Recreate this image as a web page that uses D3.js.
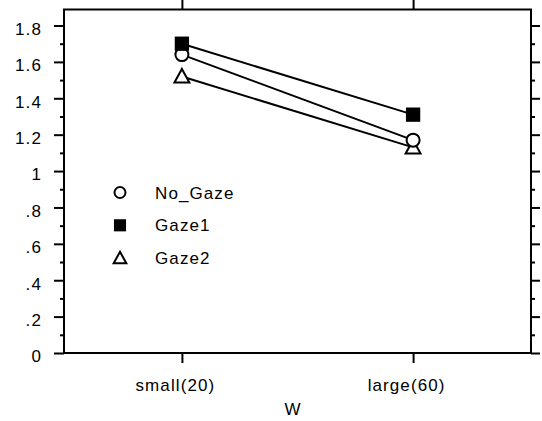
<!DOCTYPE html>
<html>
<head>
<meta charset="utf-8">
<script src="https://cdn.jsdelivr.net/npm/d3@7"></script>
<style>
  body { margin: 0; background: #fff; }
  text { font-family: "Liberation Sans", Arial, sans-serif; font-size: 17px; letter-spacing: 1.1px; fill: #000; }
</style>
</head>
<body>
<script>
// chart values
var categories = ["small(20)", "large(60)"];
var noGaze = [1.64, 1.17];
var gaze1 = [1.70, 1.31];
var gaze2 = [1.52, 1.13];
var seriesNames = ["No_Gaze", "Gaze1", "Gaze2"];
var yTickValues = [0, 0.2, 0.4, 0.6, 0.8, 1, 1.2, 1.4, 1.6, 1.8];
var yTickLabels = ["0", ".2", ".4", ".6", ".8", "1", "1.2", "1.4", "1.6", "1.8"];
var yMinorValues = [0.1, 0.3, 0.5, 0.7, 0.9, 1.1, 1.3, 1.5, 1.7];

var width = 542,
  height = 421,
  margin = {top: 9.5, right: 11, bottom: 68, left: 64},
  innerWidth = width - margin.left - margin.right,
  innerHeight = height - margin.top - margin.bottom;

var svg = d3.select("body").append("svg")
    .attr("width", width)
    .attr("height", height);

var g = svg.append("g")
    .attr("transform", "translate(" + margin.left + "," + margin.top + ")");

var xScale = d3.scalePoint()
    .domain(categories)
    .range([0, innerWidth])
    .padding(0.51);

var yScale = d3.scaleLinear()
    .domain([0, 1.888])
    .range([innerHeight, 0]);

// frame
g.append("rect")
    .attr("width", innerWidth)
    .attr("height", innerHeight)
    .attr("fill", "none")
    .attr("stroke", "#000")
    .attr("stroke-width", 2);

function styleAxis(sel) {
  sel.select(".domain").remove();
  sel.selectAll(".tick line").attr("stroke", "#000").attr("stroke-width", 2);
}
// ticks only, no labels
function bare(sel) {
  styleAxis(sel);
  sel.selectAll(".tick text").remove();
}

// left axis, major + minor
var yFmt = function (d) { return yTickLabels[yTickValues.indexOf(d)]; };
g.append("g")
    .call(d3.axisLeft(yScale).tickValues(yTickValues).tickFormat(yFmt).tickSize(10).tickPadding(12))
    .call(styleAxis)
    .selectAll("text").attr("dy", "0.52em");
g.append("g")
    .call(d3.axisLeft(yScale).tickValues(yMinorValues).tickSize(4))
    .call(bare);

// right axis
g.append("g")
    .attr("transform", "translate(" + innerWidth + ",0)")
    .call(d3.axisRight(yScale).tickValues(yTickValues).tickSize(9))
    .call(bare);
g.append("g")
    .attr("transform", "translate(" + innerWidth + ",0)")
    .call(d3.axisRight(yScale).tickValues(yMinorValues).tickSize(4))
    .call(bare);

// bottom axis
g.append("g")
    .attr("transform", "translate(0," + innerHeight + ")")
    .call(d3.axisBottom(xScale).tickSize(10).tickPadding(16))
    .call(styleAxis)
    .selectAll(".tick text").attr("dx", -7);

// top axis
g.append("g")
    .call(d3.axisTop(xScale).tickSize(10))
    .call(bare);

// x title
svg.append("text")
    .attr("x", 293)
    .attr("y", 415)
    .attr("text-anchor", "middle")
    .text("W");

// symbols
var symbols = {
  "No_Gaze": function (sel, r) {
    sel.append("circle").attr("r", r).attr("fill", "#fff").attr("stroke", "#000").attr("stroke-width", 2);
  },
  "Gaze1": function (sel, r) {
    var s = r * 2.2;
    sel.append("rect").attr("x", -s / 2).attr("y", -s / 2).attr("width", s).attr("height", s).attr("fill", "#000");
  },
  "Gaze2": function (sel, r) {
    var w = r * 2.3, h = r * 2.1;
    sel.append("path")
        .attr("d", "M0," + (-h * 0.55) + "L" + (w / 2) + "," + (h * 0.45) + "L" + (-w / 2) + "," + (h * 0.45) + "Z")
        .attr("fill", "#fff").attr("stroke", "#000").attr("stroke-width", 2).attr("stroke-linejoin", "miter");
  }
};

var series = [
  {name: "No_Gaze", values: noGaze},
  {name: "Gaze1", values: gaze1},
  {name: "Gaze2", values: gaze2}
];

var line = d3.line()
    .x(function (d, i) { return xScale(categories[i]); })
    .y(function (d) { return yScale(d); });

g.selectAll(".series-line")
    .data(series)
  .enter().append("path")
    .attr("class", "series-line")
    .attr("d", function (d) { return line(d.values); })
    .attr("fill", "none")
    .attr("stroke", "#000")
    .attr("stroke-width", 2);

// draw markers in order: triangle, circle, square (square on top)
[series[2], series[0], series[1]].forEach(function (s) {
  s.values.forEach(function (v, i) {
    var m = g.append("g")
        .attr("transform", "translate(" + xScale(categories[i]) + "," + yScale(v) + ")");
    symbols[s.name](m, 6.5);
  });
});

// legend
var legend = svg.append("g").attr("transform", "translate(120,192.5)");
seriesNames.forEach(function (name, i) {
  var row = legend.append("g").attr("transform", "translate(0," + i * 32.8 + ")");
  symbols[name](row, 5.5);
  row.append("text")
      .attr("x", 35)
      .attr("dy", "0.36em")
      .text(name);
});
</script>
</body>
</html>
